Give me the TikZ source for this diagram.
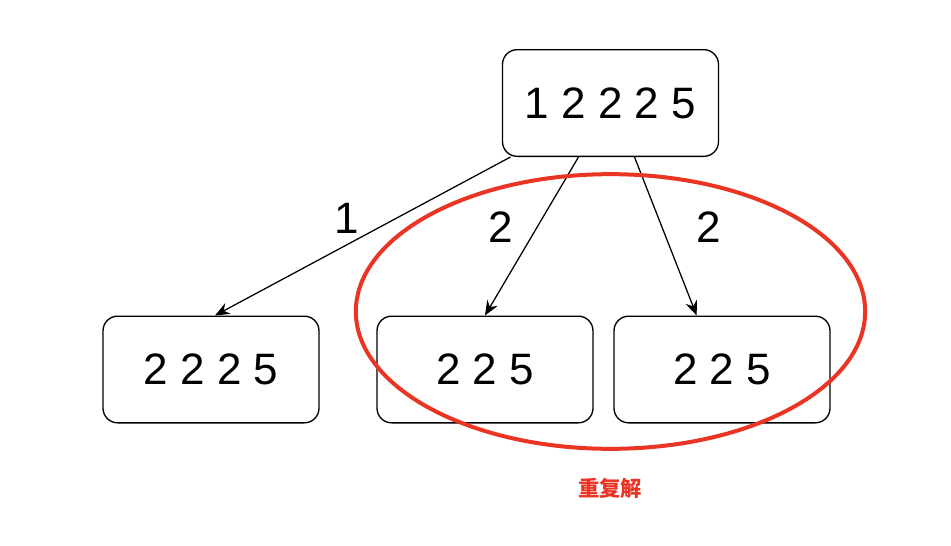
\documentclass[tikz,border=0pt]{standalone}
\usepackage{fontspec}
\setmainfont{Liberation Sans}
\newfontfamily\cjk{Noto Sans CJK SC}
\usetikzlibrary{arrows.meta}
\definecolor{dupred}{RGB}{234,52,36}

\begin{document}
\begin{tikzpicture}[x=0.75pt,y=-0.75pt,
    numbox/.style={draw,line width=1pt,rounded corners=11pt,
        minimum width=162pt,minimum height=80pt,inner sep=0pt,
        font=\fontsize{33}{40}\selectfont},
    edge/.style={-{Stealth[length=11pt,width=9pt]},line width=0.95pt},
    lbl/.style={font=\fontsize{33}{40}\selectfont}]
    \useasboundingbox (0,0) rectangle (951,546);
    \node[numbox] (top) at (610.5,103) {1 2 2 2 5};
    \node[numbox] (left) at (211,369.5) {2 2 2 5};
    \node[numbox] (mid) at (485,369.5) {2 2 5};
    \node[numbox] (right) at (722,369.5) {2 2 5};
    \draw[edge] ([xshift=-75pt]top.south) -- ([xshift=3pt]left.north);
    \draw[edge] ([xshift=-24pt]top.south) -- (mid.north);
    \draw[edge] ([xshift=18pt]top.south) -- ([xshift=-19pt]right.north);
    \node[lbl] (l1) at (347,218) {1};
    \node[lbl] (l2) at (501,227) {2};
    \node[lbl] (l3) at (709,227) {2};
    % duplicate branches
    \draw[dupred,line width=3pt] (610.5,311.5) ellipse [x radius=191pt,y radius=103pt];
    \node[text=dupred,font=\cjk\bfseries\fontsize{16}{19}\selectfont] (dup) at (610,488) {重复解};
\end{tikzpicture}
\end{document}
